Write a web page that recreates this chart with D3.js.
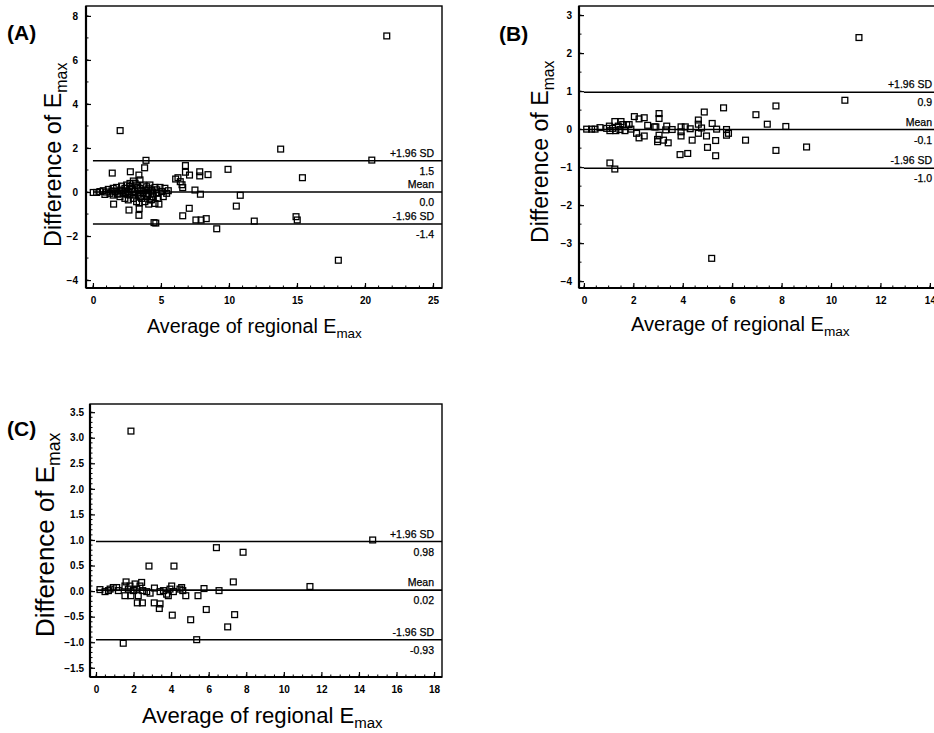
<!DOCTYPE html>
<html>
<head>
<meta charset="utf-8" />
<title>Bland-Altman Emax</title>
<style>
html, body { margin:0; padding:0; background:#ffffff; }
svg { display:block; }
text { font-family: "Liberation Sans", Arial, sans-serif; fill:#000; }
</style>
<script src="https://d3js.org/d3.v7.min.js"></script>
</head>
<body>
<script>
// ---- data ----
// panel A
var xA = [21.6,2.0,13.8,20.5,3.9,3.8,1.42,2.75,3.38,6.8,6.8,7.1,7.85,7.85,8.46,9.93,15.4,6.08,6.25,6.42,6.55,6.6,7.5,7.9,10.83,10.54,7.08,6.6,7.57,7.95,8.33,9.1,11.86,14.93,15.02,18.04,4.49,4.62,3.38,2.65,1.52,3.4,3.4,4.1,4.85,
  0.02,0.27,0.51,0.76,0.88,1.13,1.25,1.49,1.49,1.62,1.74,1.86,1.99,1.99,2.11,2.23,2.35,2.35,2.48,2.6,2.6,2.72,2.72,2.84,2.97,2.97,3.09,3.21,3.21,3.33,3.46,3.46,3.58,3.7,3.7,3.82,3.82,3.95,3.95,4.07,4.19,4.19,4.32,4.44,4.56,4.56,4.68,4.8,4.93,5.05,5.17,5.29,5.42,5.54,
  1.0,1.4,1.8,2.1,2.5,2.9,3.0,3.3,3.6,3.9,4.1,4.4,4.7,2.4,3.5,4.3,2.7,3.1];
var yA = [7.09,2.79,1.95,1.45,1.44,1.1,0.86,0.92,0.77,1.2,0.9,0.77,0.92,0.73,0.79,1.03,0.65,0.59,0.65,0.47,0.33,0.2,0.09,-0.1,-0.15,-0.64,-0.74,-1.08,-1.27,-1.27,-1.21,-1.67,-1.32,-1.12,-1.27,-3.1,-1.39,-1.41,-1.06,-0.82,-0.55,-0.5,-0.75,-0.55,-0.55,
  -0.02,-0.02,0.02,0.06,-0.11,0.12,-0.06,0.17,-0.14,0.02,0.21,-0.06,0.09,-0.21,0.27,-0.06,0.17,-0.29,0.32,0.02,-0.36,0.39,-0.14,0.17,0.5,-0.29,0.02,0.32,-0.44,-0.14,0.55,0.17,-0.29,0.32,-0.06,0.09,-0.44,0.24,-0.21,-0.06,0.32,-0.36,0.09,-0.21,0.21,-0.52,-0.06,-0.29,0.21,0.02,-0.21,0.17,-0.06,0.06,
  0.0,0.05,-0.1,0.05,-0.1,0.1,-0.1,0.2,0.05,-0.1,0.15,0.0,0.1,-0.05,-0.2,-0.35,0.25,0.4];
// panel B
var xB = [11.13,10.56,7.77,5.65,4.87,6.96,7.42,8.17,6.54,7.77,9.01,5.17,1.05,1.25,3.89,4.2,5.0,5.33,4.96,5.33,4.38,3.41,3.22,2.98,2.98,3.04,3.04,3.04,2.04,2.23,2.44,2.58,2.13,2.23,2.44,2.85,2.91,3.35,3.31,3.57,3.93,4.1,4.3,4.63,4.63,4.63,4.76,5.19,5.37,5.77,5.77,5.85,3.93,3.93,
  0.11,0.31,0.45,0.65,0.92,1.03,1.05,1.16,1.25,1.29,1.39,1.46,1.57,1.66,1.73,1.83,1.5,1.9];
var yB = [2.41,0.76,0.61,0.56,0.45,0.38,0.13,0.07,-0.29,-0.56,-0.47,-3.4,-0.89,-1.05,-0.67,-0.64,-0.48,-0.7,-0.18,-0.3,-0.29,-0.36,-0.29,-0.27,-0.33,-0.16,0.41,0.28,0.33,0.27,0.3,0.1,-0.11,-0.23,-0.18,0.06,0.06,0.08,-0.02,-0.01,0.06,0.06,0.01,0.24,0.13,-0.11,0.03,0.15,0.0,-0.01,-0.16,-0.11,-0.07,-0.18,
  0.0,0.0,0.0,0.04,0.02,0.08,-0.04,0.02,0.2,-0.04,0.08,-0.01,0.12,-0.04,0.12,0.12,0.2,0.0];
// panel C
var xC = [1.86,14.73,6.41,7.83,2.82,4.15,7.31,11.39,6.55,5.75,5.43,5.87,5.04,4.06,7.38,7.01,5.36,1.45,3.1,3.37,3.41,2.2,2.47,
  0.21,0.48,0.66,0.75,0.92,1.1,1.19,1.54,1.6,1.54,1.72,1.81,1.86,1.99,2.08,2.17,2.25,2.34,2.43,2.49,2.7,2.88,3.11,3.41,3.59,3.76,3.94,4.03,4.12,4.47,4.56,4.62,4.78,3.85];
var yC = [3.13,1.0,0.85,0.76,0.49,0.49,0.18,0.09,0.01,0.05,-0.09,-0.36,-0.56,-0.47,-0.46,-0.7,-0.95,-1.02,-0.23,-0.34,-0.25,-0.23,-0.23,
  0.03,-0.01,0.01,0.04,0.07,0.07,0.01,0.1,0.18,-0.09,0.04,0.1,-0.09,0.01,0.14,0.04,-0.09,0.1,0.17,0.01,-0.01,-0.04,0.06,-0.01,0.01,-0.06,0.04,0.1,-0.01,0.04,0.07,0.01,-0.09,-0.09];

// limits of agreement: [+1.96 SD, mean, -1.96 SD] and printed values
var linesA = [1.42, 0.0, -1.45], valsA = ["1.5", "0.0", "-1.4"];
var linesB = [0.97, -0.01, -1.03], valsB = ["0.9", "-0.1", "-1.0"];
var linesC = [0.97, 0.02, -0.95], valsC = ["0.98", "0.02", "-0.93"];
var lineNames = ["+1.96 SD", "Mean", "-1.96 SD"];

// tick values
var xTicksA = [0,5,10,15,20,25], yTicksA = [-4,-2,0,2,4,6,8];
var xTicksB = [0,2,4,6,8,10,12,14], yTicksB = [-4,-3,-2,-1,0,1,2,3];
var xTicksC = [0,2,4,6,8,10,12,14,16,18], yTicksC = [-1.5,-1.0,-0.5,0.0,0.5,1.0,1.5,2.0,2.5,3.0,3.5];

var svg = d3.select("body").append("svg").attr("width", 934).attr("height", 733);

function fitText(t, target) {
  var fs = parseFloat(t.attr("font-size"));
  var w = t.node().getBBox().width;
  t.attr("font-size", (fs * target / w).toFixed(2));
}

function panel(p) {
  var x = d3.scaleLinear().domain(p.xd).range([p.l, p.r]);
  var y = d3.scaleLinear().domain(p.yd).range([p.b, p.t]);
  var g = svg.append("g");

  // frame
  g.append("rect").attr("x", p.l).attr("y", p.t).attr("width", p.r - p.l).attr("height", p.b - p.t)
    .attr("fill", "none").attr("stroke", "#000").attr("stroke-width", 1.4);
  g.append("line").attr("x1", p.l).attr("x2", p.l).attr("y1", p.t).attr("y2", p.b).attr("stroke", "#000").attr("stroke-width", 2.2);
  g.append("line").attr("x1", p.l).attr("x2", p.r).attr("y1", p.b).attr("y2", p.b).attr("stroke", "#000").attr("stroke-width", 2.2);

  // minor ticks
  g.selectAll(".mx").data(d3.range(p.xm[0], p.xm[1] + 1e-9, p.xm[2])).enter().append("line")
    .attr("x1", d => x(d)).attr("x2", d => x(d)).attr("y1", p.b).attr("y2", p.b - 2.5)
    .attr("stroke", "#000").attr("stroke-width", 1);
  g.selectAll(".my").data(d3.range(p.ym[0], p.ym[1] + 1e-9, p.ym[2])).enter().append("line")
    .attr("y1", d => y(d)).attr("y2", d => y(d)).attr("x1", p.l).attr("x2", p.l + 2.5)
    .attr("stroke", "#000").attr("stroke-width", 1);

  // axes (ticks inward)
  var ax = g.append("g").attr("transform", "translate(0," + p.b + ")")
    .call(d3.axisBottom(x).tickValues(p.xt).tickSize(-5).tickPadding(9).tickFormat(d3.format("d")));
  var ay = g.append("g").attr("transform", "translate(" + p.l + ",0)")
    .call(d3.axisLeft(y).tickValues(p.yt).tickSize(-5).tickPadding(p.yPad).tickFormat(p.yf));
  [ax, ay].forEach(function (a) {
    a.select(".domain").remove();
    a.selectAll(".tick line").attr("stroke-width", 1.2);
    a.selectAll("text").attr("font-size", 10).attr("font-weight", "bold")
      .attr("font-family", "'Liberation Sans', Arial, sans-serif");
  });

  // limit lines
  g.selectAll(".ref").data(p.lines).enter().append("line")
    .attr("x1", x(0)).attr("x2", p.r).attr("y1", d => y(d)).attr("y2", d => y(d))
    .attr("stroke", "#000").attr("stroke-width", 1.6);
  p.lines.forEach(function (v, i) {
    g.append("text").attr("x", p.lx).attr("y", y(v) - 4).attr("text-anchor", "end")
      .attr("font-size", 10.5).attr("stroke", "#000").attr("stroke-width", 0.25).text(lineNames[i]);
    g.append("text").attr("x", p.lx).attr("y", y(v) + 14).attr("text-anchor", "end")
      .attr("font-size", 10.5).attr("stroke", "#000").attr("stroke-width", 0.25).text(p.vals[i]);
  });

  // points
  g.selectAll(".pt").data(p.xs).enter().append("rect")
    .attr("x", (d) => x(d) - 2.9).attr("y", (d, i) => y(p.ys[i]) - 2.9)
    .attr("width", 5.8).attr("height", 5.8)
    .attr("fill", "none").attr("stroke", "#000").attr("stroke-width", 1.3);

  // titles
  var xt = svg.append("text").attr("x", p.xtx).attr("y", p.xty).attr("font-size", 20);
  xt.append("tspan").text("Average of regional E");
  xt.append("tspan").attr("dy", 5).attr("font-size", "0.68em").text("max");
  fitText(xt, p.xtw);

  var yt = svg.append("text").attr("transform", "translate(" + p.ytx + "," + p.yty + ") rotate(-90)").attr("font-size", 22);
  yt.append("tspan").text("Difference of  E");
  yt.append("tspan").attr("dy", 6).attr("font-size", "0.68em").text("max");
  fitText(yt, p.ytw);

  svg.append("text").attr("x", p.px).attr("y", p.py).attr("font-size", 21).attr("font-weight", "bold")
    .attr("font-family", "Arial, 'Liberation Sans', sans-serif").text(p.name);
}

panel({ name: "(A)", px: 7, py: 40,
  l: 86, r: 442, t: 6, b: 288, xd: [-0.51, 25.66], yd: [-4.36, 8.45],
  xt: xTicksA, yt: yTicksA, yf: d3.format("d"), yPad: 8,
  xm: [0, 25, 1], ym: [-4, 8, 1],
  xs: xA, ys: yA, lines: linesA, vals: valsA, lx: 434,
  xtx: 147, xty: 333, xtw: 215, ytx: 61, yty: 247, ytw: 185 });

panel({ name: "(B)", px: 499, py: 41,
  l: 579, r: 941, t: 6, b: 288, xd: [-0.2, 14.45], yd: [-4.18, 3.24],
  xt: xTicksB, yt: yTicksB, yf: d3.format("d"), yPad: 7,
  xm: [0, 14, 0.5], ym: [-4, 3, 0.5],
  xs: xB, ys: yB, lines: linesB, vals: valsB, lx: 932,
  xtx: 631, xty: 331, xtw: 219, ytx: 548, yty: 243, ytw: 183 });

panel({ name: "(C)", px: 7, py: 436,
  l: 90, r: 442, t: 404, b: 677, xd: [-0.32, 18.42], yd: [-1.68, 3.66],
  xt: xTicksC, yt: yTicksC, yf: d3.format(".1f"), yPad: 6,
  xm: [0, 18, 0.5], ym: [-1.5, 3.5, 0.1],
  xs: xC, ys: yC, lines: linesC, vals: valsC, lx: 434,
  xtx: 142, xty: 723, xtw: 241, ytx: 54, yty: 637, ytw: 205 });
</script>
</body>
</html>
